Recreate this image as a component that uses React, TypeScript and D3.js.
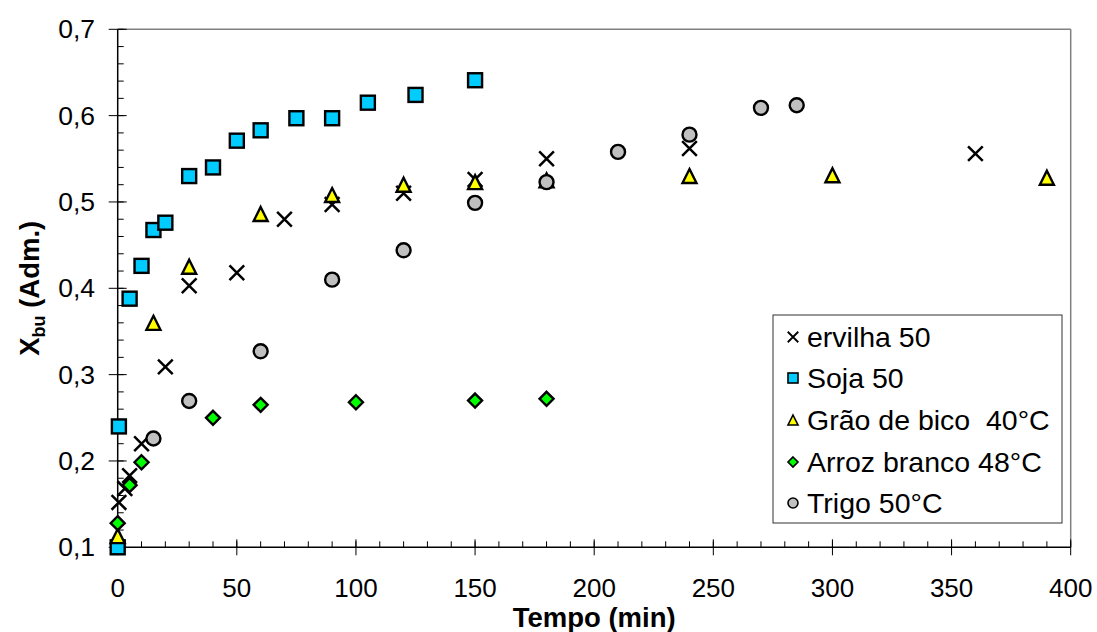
import React from "react";
import * as d3 from "d3";

const ervilhaT = [0.5, 3, 5, 10, 20, 30, 50, 70, 90, 120, 150, 180, 240, 360];
const ervilhaV = [0.152, 0.168, 0.183, 0.22, 0.309, 0.403, 0.418, 0.48, 0.497, 0.51, 0.526, 0.55, 0.562, 0.556];

const sojaT = [0, 0.5, 5, 10, 15, 20, 30, 40, 50, 60, 75, 90, 105, 125, 150];
const sojaV = [0.1, 0.24, 0.388, 0.426, 0.4675, 0.476, 0.53, 0.54, 0.571, 0.583, 0.597, 0.597, 0.615, 0.624, 0.641];

const graoT = [0, 15, 30, 60, 90, 120, 150, 180, 240, 300, 390];
const graoV = [0.113, 0.36, 0.425, 0.486, 0.508, 0.52, 0.523, 0.525, 0.53, 0.531, 0.528];

const arrozT = [0, 5, 10, 40, 60, 100, 150, 180];
const arrozV = [0.128, 0.172, 0.1985, 0.25, 0.265, 0.268, 0.27, 0.272];

const trigoT = [15, 30, 60, 90, 120, 150, 180, 210, 240, 270, 285];
const trigoV = [0.226, 0.2695, 0.327, 0.41, 0.444, 0.499, 0.523, 0.558, 0.578, 0.609, 0.612];

const seriesNames = ["ervilha 50", "Soja 50", "Grão de bico  40°C", "Arroz branco 48°C", "Trigo 50°C"];
const xTicks = [0, 50, 100, 150, 200, 250, 300, 350, 400];
const yTicks = [0.1, 0.2, 0.3, 0.4, 0.5, 0.6, 0.7];
const yTickLabels = ["0,1", "0,2", "0,3", "0,4", "0,5", "0,6", "0,7"];

const FONT = "'Liberation Sans', Arial, sans-serif";

type Kind = "x" | "square" | "triangle" | "diamond" | "circle";

function Marker({ kind, cx, cy, s }: { kind: Kind; cx: number; cy: number; s: number }) {
  const h = s / 2;
  if (kind === "x") {
    const a = h * 1.05;
    return (
      <path d={`M${cx - a},${cy - a}L${cx + a},${cy + a}M${cx - a},${cy + a}L${cx + a},${cy - a}`} stroke="#000" strokeWidth={s > 12 ? 2.5 : 1.8} fill="none" />
    );
  }
  if (kind === "square") {
    return <rect x={cx - h} y={cy - h} width={s} height={s} fill="#00CCFF" stroke="#000" strokeWidth={s > 12 ? 2.4 : 1.6} />;
  }
  if (kind === "triangle") {
    return <path d={`M${cx},${cy - h}L${cx + h},${cy + h}L${cx - h},${cy + h}Z`} fill="#FFFF00" stroke="#000" strokeWidth={s > 12 ? 2.4 : 1.6} strokeLinejoin="miter" />;
  }
  if (kind === "diamond") {
    return <path d={`M${cx},${cy - h}L${cx + h},${cy}L${cx},${cy + h}L${cx - h},${cy}Z`} fill="#00FF00" stroke="#000" strokeWidth={s > 12 ? 2.4 : 1.6} />;
  }
  return <circle cx={cx} cy={cy} r={h} fill="#C0C0C0" stroke="#000" strokeWidth={s > 12 ? 2.4 : 1.6} />;
}

export default function App() {
  const W = 1097;
  const H = 632;
  const x = d3.scaleLinear().domain([0, 400]).range([117.7, 1070.7]);
  const y = d3.scaleLinear().domain([0.1, 0.7]).range([547.3, 29.3]);

  const series: { kind: Kind; t: number[]; v: number[] }[] = [
    { kind: "x", t: ervilhaT, v: ervilhaV },
    { kind: "square", t: sojaT, v: sojaV },
    { kind: "triangle", t: graoT, v: graoV },
    { kind: "diamond", t: arrozT, v: arrozV },
    { kind: "circle", t: trigoT, v: trigoV },
  ];

  const xMinor = d3.range(0, 401, 10);
  const yMinor = d3.range(0, 31).map((i) => 0.1 + i * 0.02);

  const x0 = x(0);
  const y0 = y(0.1);

  const legendY = [337, 378, 420, 462, 503];

  return (
    <svg width={W} height={H} style={{ position: "absolute", left: 0, top: 0, background: "#fff" }}>
      {/* frame */}
      <line x1={x0} x2={x(400)} y1={y(0.7)} y2={y(0.7)} stroke="#808080" strokeWidth={1.5} />
      <line x1={x(400)} x2={x(400)} y1={y(0.7)} y2={y0} stroke="#808080" strokeWidth={1.5} />

      {/* minor ticks */}
      {xMinor.map((t) => (
        <line key={"xm" + t} x1={x(t)} x2={x(t)} y1={y0} y2={y0 - 6} stroke="#000" strokeWidth={1} />
      ))}
      {yMinor.map((v, i) => (
        <line key={"ym" + i} x1={x0} x2={x0 + 6} y1={y(v)} y2={y(v)} stroke="#000" strokeWidth={1} />
      ))}
      {/* major ticks */}
      {xTicks.map((t) => (
        <line key={"xM" + t} x1={x(t)} x2={x(t)} y1={y0 - 8} y2={y0 + 8} stroke="#000" strokeWidth={1} />
      ))}
      {yTicks.map((v) => (
        <line key={"yM" + v} x1={x0 - 9} x2={x0 + 9} y1={y(v)} y2={y(v)} stroke="#000" strokeWidth={1} />
      ))}
      {/* axes */}
      <line x1={x0} x2={x(400)} y1={y0} y2={y0} stroke="#000" strokeWidth={1.5} />
      <line x1={x0} x2={x0} y1={y(0.7)} y2={y0} stroke="#000" strokeWidth={1.5} />

      {/* tick labels */}
      {xTicks.map((t) => (
        <text key={"xl" + t} x={x(t)} y={588} textAnchor="middle" dominantBaseline="central" fontFamily={FONT} fontSize={26} fill="#000">
          {t}
        </text>
      ))}
      {yTicks.map((v, i) => (
        <text key={"yl" + v} x={95} y={y(v)} textAnchor="end" dominantBaseline="central" fontFamily={FONT} fontSize={26.5} fill="#000">
          {yTickLabels[i]}
        </text>
      ))}

      {/* axis titles */}
      <text x={(x0 + x(400)) / 2} y={627} textAnchor="middle" fontFamily={FONT} fontSize={27.5} fontWeight="bold" fill="#000">
        Tempo (min)
      </text>
      <text transform={`translate(39,${(y(0.7) + y0) / 2}) rotate(-90)`} textAnchor="middle" fontFamily={FONT} fontSize={27.5} fontWeight="bold" fill="#000">
        X<tspan fontSize={18} dy={6}>bu</tspan>
        <tspan dy={-6}> (Adm.)</tspan>
      </text>

      {/* data */}
      {series.map((s, si) => (
        <g key={"s" + si}>
          {s.t.map((t, i) => (
            <Marker key={i} kind={s.kind} cx={x(t)} cy={y(s.v[i])} s={14} />
          ))}
        </g>
      ))}

      {/* legend */}
      <rect x={773} y={315} width={289} height={208} fill="#fff" stroke="#333" strokeWidth={1} />
      {series.map((s, i) => (
        <g key={"lg" + i}>
          <Marker kind={s.kind} cx={793} cy={legendY[i]} s={10} />
          <text x={807} y={legendY[i]} dominantBaseline="central" fontFamily={FONT} fontSize={28.5} fill="#000" style={{ whiteSpace: "pre" }}>
            {seriesNames[i]}
          </text>
        </g>
      ))}
    </svg>
  );
}
